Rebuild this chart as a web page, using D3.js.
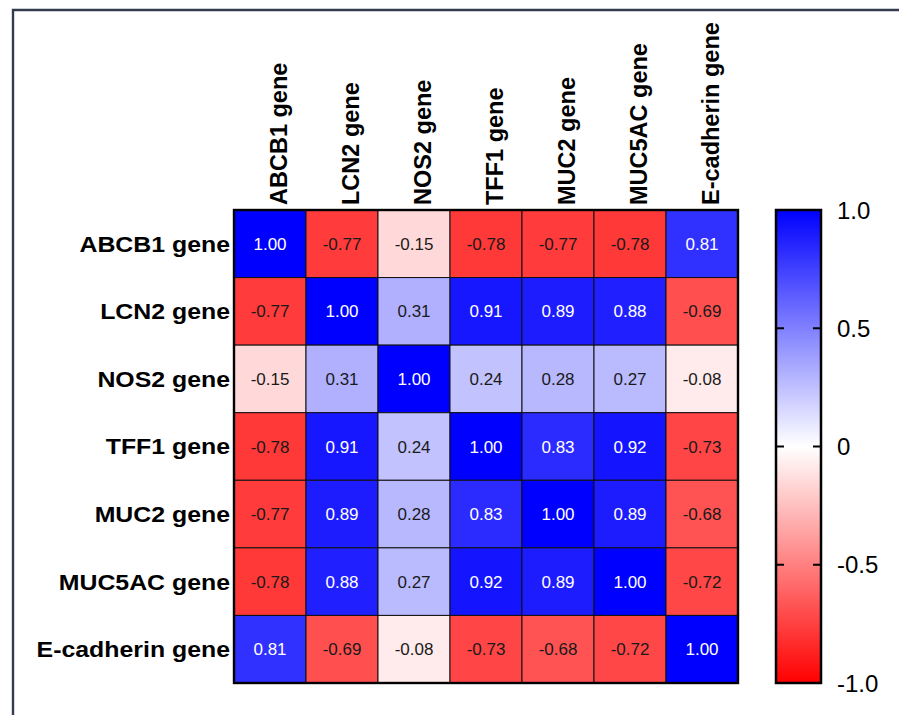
<!DOCTYPE html>
<html>
<head>
<meta charset="utf-8">
<script src="https://cdn.jsdelivr.net/npm/d3@7"></script>
<style>
  html, body { margin: 0; padding: 0; background: #fff; }
  svg { display: block; font-family: Arial, "Liberation Sans", Helvetica, sans-serif; }
</style>
</head>
<body>
<svg id="chart" width="899" height="715"></svg>
<script>
const genes = ["ABCB1 gene", "LCN2 gene", "NOS2 gene", "TFF1 gene", "MUC2 gene", "MUC5AC gene", "E-cadherin gene"];
const matrix = [
  [1.00, -0.77, -0.15, -0.78, -0.77, -0.78, 0.81],
  [-0.77, 1.00, 0.31, 0.91, 0.89, 0.88, -0.69],
  [-0.15, 0.31, 1.00, 0.24, 0.28, 0.27, -0.08],
  [-0.78, 0.91, 0.24, 1.00, 0.83, 0.92, -0.73],
  [-0.77, 0.89, 0.28, 0.83, 1.00, 0.89, -0.68],
  [-0.78, 0.88, 0.27, 0.92, 0.89, 1.00, -0.72],
  [0.81, -0.69, -0.08, -0.73, -0.68, -0.72, 1.00]
];
const legendTicks = [1.0, 0.5, 0, -0.5, -1.0];
const legendTickLabels = ["1.0", "0.5", "0", "-0.5", "-1.0"];

const svg = d3.select("#chart");
svg.append("rect").attr("width", 899).attr("height", 715).attr("fill", "#fff");

// frame
svg.append("path")
  .attr("d", "M13,715 L13,10 L899,10")
  .attr("fill", "none").attr("stroke", "#333c4f").attr("stroke-width", 2.4);

const gx0 = 234, gx1 = 738, gy0 = 210, gy1 = 683;
const x = d3.scaleBand().domain(d3.range(genes.length)).range([gx0, gx1]);
const y = d3.scaleBand().domain(d3.range(genes.length)).range([gy0, gy1]);
const color = d3.scaleLinear().domain([-1, 0, 1]).range(["#ff0000", "#ffffff", "#0000ff"]);

const cells = [];
matrix.forEach((row, i) => row.forEach((v, j) => cells.push({i, j, v})));

const g = svg.append("g");
g.selectAll("rect.cell").data(cells).join("rect")
  .attr("class", "cell")
  .attr("x", d => x(d.j)).attr("y", d => y(d.i))
  .attr("width", x.bandwidth()).attr("height", y.bandwidth())
  .attr("fill", d => color(d.v))
  .attr("stroke", "#111").attr("stroke-width", 1);

g.selectAll("text.val").data(cells).join("text")
  .attr("class", "val")
  .attr("x", d => x(d.j) + x.bandwidth() / 2)
  .attr("y", d => y(d.i) + y.bandwidth() / 2)
  .attr("dy", "0.36em")
  .attr("text-anchor", "middle")
  .attr("font-size", 17)
  .attr("fill", d => d.v > 0.5 ? "#ffffff" : "#1a1a1a")
  .text(d => d.v.toFixed(2));

g.append("rect")
  .attr("x", gx0).attr("y", gy0).attr("width", gx1 - gx0).attr("height", gy1 - gy0)
  .attr("fill", "none").attr("stroke", "#000").attr("stroke-width", 2.4);

// row labels (slightly wide glyphs as in the reference)
svg.selectAll("text.rowlab").data(genes).join("text")
  .attr("class", "rowlab")
  .attr("transform", (d, i) => `translate(230,${y(i) + y.bandwidth() / 2}) scale(1.13,1)`)
  .attr("dy", "0.36em")
  .attr("text-anchor", "end")
  .attr("font-size", 22).attr("font-weight", "bold").attr("fill", "#000")
  .text(d => d);

// column labels
svg.selectAll("text.collab").data(genes).join("text")
  .attr("class", "collab")
  .attr("transform", (d, i) => `translate(${x(i) + x.bandwidth() / 2 + 17},205) rotate(-90)`)
  .attr("text-anchor", "start")
  .attr("font-size", 23.5).attr("font-weight", "bold").attr("fill", "#000")
  .text(d => d);

// color bar
const lx0 = 776, lx1 = 821;
const ly = d3.scaleLinear().domain([-1, 1]).range([gy1, gy0]);
const defs = svg.append("defs");
const grad = defs.append("linearGradient").attr("id", "cbar")
  .attr("x1", 0).attr("y1", 1).attr("x2", 0).attr("y2", 0);
[-1, -0.5, 0, 0.5, 1].forEach(v => {
  grad.append("stop").attr("offset", (v + 1) / 2).attr("stop-color", color(v));
});
svg.append("rect")
  .attr("x", lx0).attr("y", gy0).attr("width", lx1 - lx0).attr("height", gy1 - gy0)
  .attr("fill", "url(#cbar)").attr("stroke", "#000").attr("stroke-width", 2.5);

const ticks = svg.append("g");
legendTicks.forEach((t, k) => {
  const yy = ly(t);
  if (t !== 1 && t !== -1) {
    ticks.append("line").attr("x1", lx0).attr("x2", lx0 + 8).attr("y1", yy).attr("y2", yy)
      .attr("stroke", "#000").attr("stroke-width", 2);
    ticks.append("line").attr("x1", lx1 - 8).attr("x2", lx1).attr("y1", yy).attr("y2", yy)
      .attr("stroke", "#000").attr("stroke-width", 2);
  }
  ticks.append("text")
    .attr("x", 837).attr("y", yy).attr("dy", "0.36em")
    .attr("font-size", 24).attr("fill", "#000")
    .text(legendTickLabels[k]);
});
</script>
</body>
</html>
